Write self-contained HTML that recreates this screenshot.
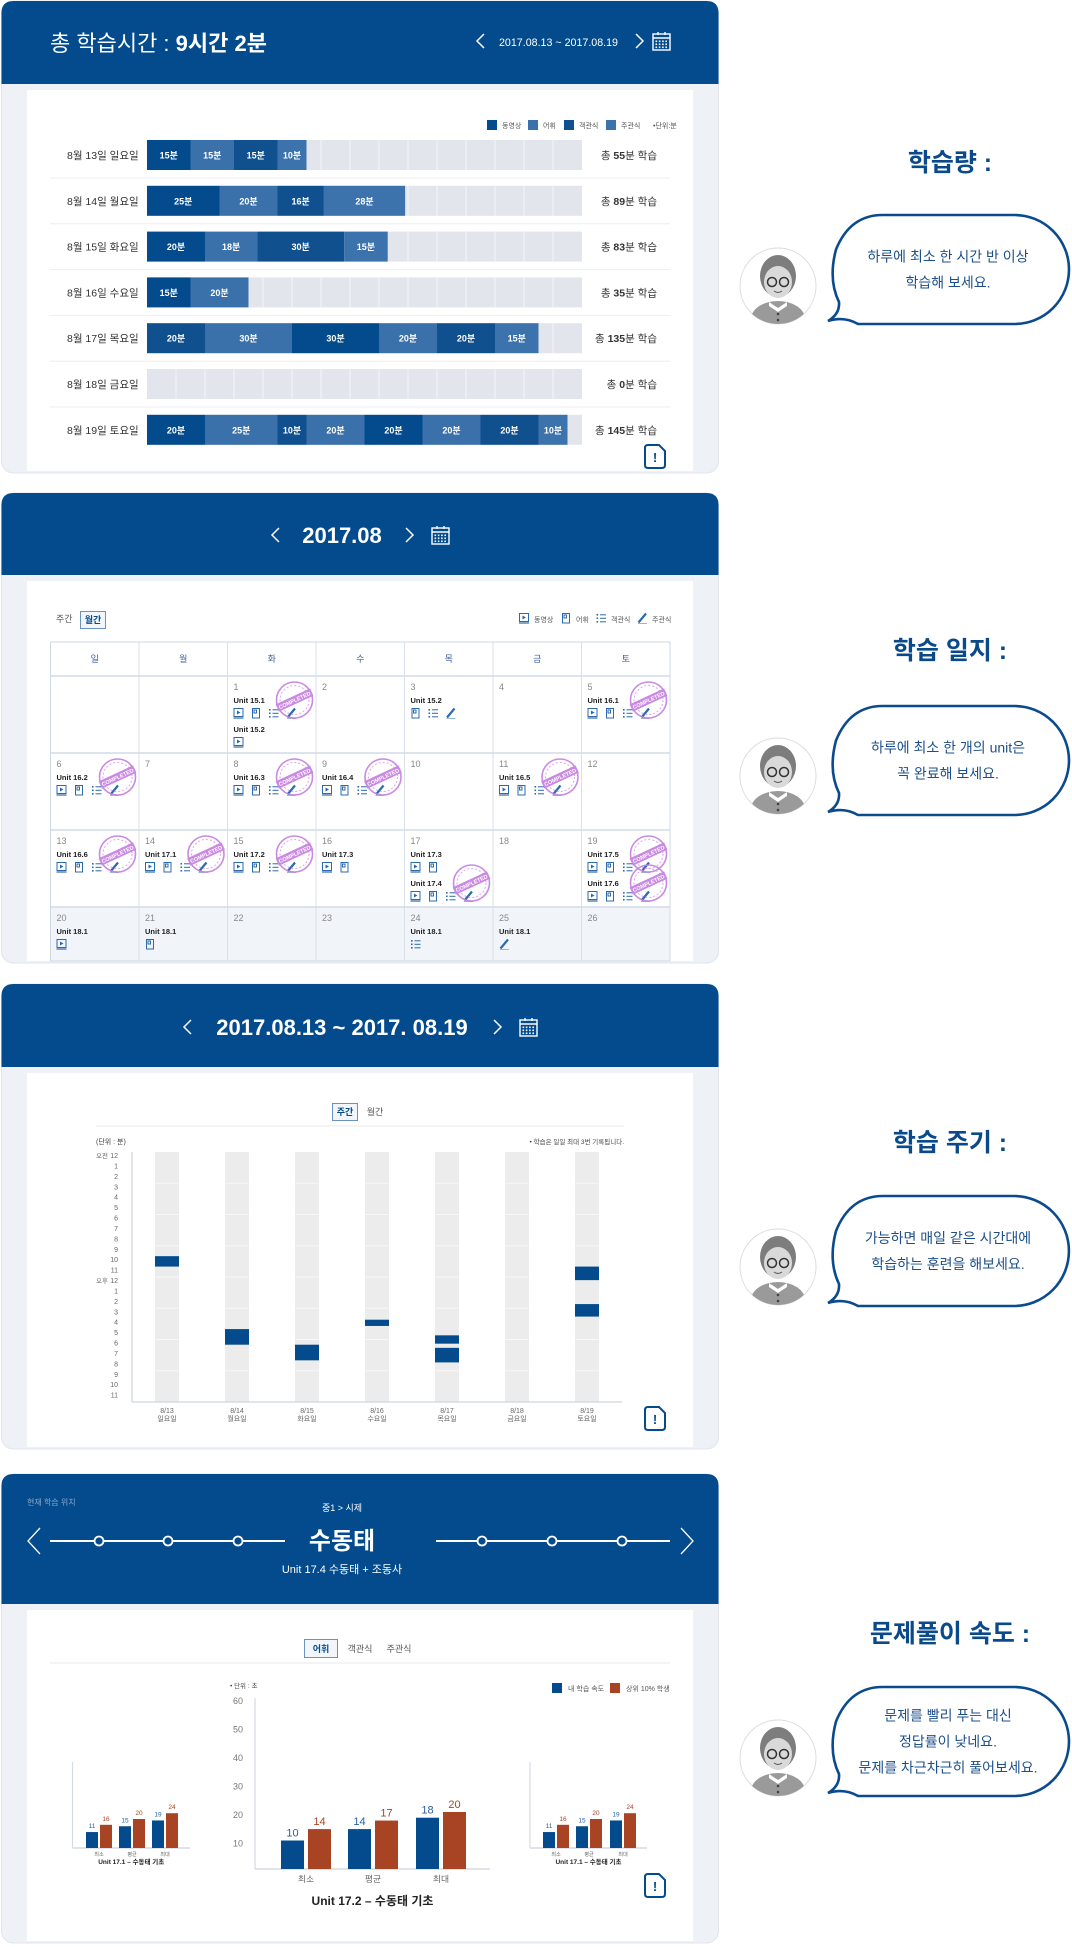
<!DOCTYPE html>
<html><head><meta charset="utf-8"><style>
html,body{margin:0;padding:0;background:#fff;}
#root{position:relative;width:1072px;height:1947px;overflow:hidden;background:#fff;}
svg{display:block;font-family:"Liberation Sans","Noto Sans CJK KR",sans-serif;}
</style></head><body>
<div id="root">
<svg id="page" width="1072" height="1947" viewBox="0 0 1072 1947"></svg>
</div>
<script>
// ---------- chart 1 data ----------
const dayLabels = ['8월 13일 일요일','8월 14일 월요일','8월 15일 화요일','8월 16일 수요일','8월 17일 목요일','8월 18일 금요일','8월 19일 토요일'];
const segMinutes = [[15,15,15,10],[25,20,16,28],[20,18,30,15],[15,20],[20,30,30,20,20,15],[],[20,25,10,20,20,20,20,10]];
const segTypes = [[0,1,2,3],[0,1,2,3],[0,1,2,3],[0,1],[2,1,0,1,2,3],[],[0,1,2,1,0,1,2,3]];
const typeNames = ['동영상','어휘','객관식','주관식'];
// ---------- chart 3 data ----------
const weekDates = ['8/13','8/14','8/15','8/16','8/17','8/18','8/19'];
const weekDays = ['일요일','월요일','화요일','수요일','목요일','금요일','토요일'];
const sessionStarts = [[10],[17],[18.5],[16.1],[17.6,18.8],[],[11,14.6]];
const sessionEnds = [[11],[18.5],[20],[16.7],[18.4,20.2],[],[12.3,15.8]];
const hourLabels = ['12','1','2','3','4','5','6','7','8','9','10','11','12','1','2','3','4','5','6','7','8','9','10','11'];
// ---------- chart 4 data ----------
const speedCats = ['최소','평균','최대'];
const mainMine = [10,14,18];
const mainTop = [14,17,20];
const sideMine = [11,15,19];
const sideTop = [16,20,24];
const speedTicks = [10,20,30,40,50,60];
// ---------- calendar data ----------
const calNums = ['','',1,2,3,4,5,6,7,8,9,10,11,12,13,14,15,16,17,18,19,20,21,22,23,24,25,26];
const calEntries = {
 1:[['Unit 15.1','vwos',1],['Unit 15.2','v',0]], 3:[['Unit 15.2','wos',0]], 5:[['Unit 16.1','vwos',1]],
 6:[['Unit 16.2','vwos',1]], 8:[['Unit 16.3','vwos',1]], 9:[['Unit 16.4','vwos',1]], 11:[['Unit 16.5','vwos',1]],
 13:[['Unit 16.6','vwos',1]], 14:[['Unit 17.1','vwos',1]], 15:[['Unit 17.2','vwos',1]], 16:[['Unit 17.3','vw',0]],
 17:[['Unit 17.3','vw',0],['Unit 17.4','vwos',1]], 19:[['Unit 17.5','vwos',1],['Unit 17.6','vwos',1]],
 20:[['Unit 18.1','v',0]], 21:[['Unit 18.1','w',0]], 24:[['Unit 18.1','o',0]], 25:[['Unit 18.1','s',0]]
};

const NS='http://www.w3.org/2000/svg';
const svg=document.getElementById('page');
function S(tag,attrs,parent,text){const e=document.createElementNS(NS,tag);for(const k in attrs)e.setAttribute(k,attrs[k]);if(text!==undefined)e.textContent=text;(parent||svg).appendChild(e);return e;}
const BLUE='#034b8c', RED='#a84423';

function panel(top,hb,bottom){
  const g=S('g',{});
  
  
  S('rect',{x:1.5,y:top,width:717,height:bottom-top,rx:12,fill:'#eef2f7',stroke:'#dfe5ed'},g);
  const h=S('path',{d:`M1.5 ${top+12} Q1.5 ${top} 13.5 ${top} H706.5 Q718.5 ${top} 718.5 ${top+12} V${hb} H1.5 Z`,fill:BLUE},g);
  
  
  const c=S('rect',{x:27,y:hb+6,width:666,height:bottom-hb-8,fill:'#fff'},g);
  
  
  return g;
}
function chevron(x,cy,dir,p,w,h,sw){
  w=w||7;h=h||14;
  const d=dir<0?`M${x+w} ${cy-h/2} L${x} ${cy} L${x+w} ${cy+h/2}`:`M${x} ${cy-h/2} L${x+w} ${cy} L${x} ${cy+h/2}`;
  const e=S('path',{d,fill:'none',stroke:'#fff','stroke-width':sw||1.5},p);
  
  
  return e;
}
function calIcon(x,y,p){
  const g=S('g',{},p);
  
  
  S('rect',{x:x,y:y+2,width:17,height:16,fill:'none',stroke:'#fff','stroke-width':1.4},g);
  S('line',{x1:x,y1:y+6,x2:x+17,y2:y+6,stroke:'#fff','stroke-width':1.4},g);
  S('line',{x1:x+5,y1:y,x2:x+5,y2:y+3,stroke:'#fff','stroke-width':1.4},g);
  S('line',{x1:x+12,y1:y,x2:x+12,y2:y+3,stroke:'#fff','stroke-width':1.4},g);
  for(let r=0;r<3;r++)for(let c=0;c<4;c++)S('rect',{x:x+2.5+c*3.3,y:y+8.5+r*3,width:1.6,height:1.6,fill:'#fff'},g);
}
function alertIcon(x,y,p){
  const g=S('g',{},p);
  
  
  S('path',{d:`M${x+3} ${y} H${x+14} L${x+20} ${y+6} V${y+20} Q${x+20} ${y+23} ${x+17} ${y+23} H${x+3} Q${x} ${y+23} ${x} ${y+20} V${y+3} Q${x} ${y} ${x+3} ${y} Z`,fill:'#fff',stroke:BLUE,'stroke-width':2},g);
  S('text',{x:x+10,y:y+17,'font-size':13,'font-weight':'bold',fill:BLUE,'text-anchor':'middle'},g,'!');
}
function icon(t,x,y,p){
  const g=S('g',{fill:'none',stroke:'#2b6aad','stroke-width':1},p);
  
  
  if(t==='v'){S('rect',{x:x+0.5,y:y+0.5,width:9,height:8},g);S('path',{d:`M${x+3.5} ${y+2.5} L${x+7} ${y+4.5} L${x+3.5} ${y+6.5}Z`,fill:'#2b6aad',stroke:'none'},g);S('line',{x1:x,y1:y+10,x2:x+10,y2:y+10,'stroke-width':1.2},g);}
  else if(t==='w'){S('rect',{x:x+1.5,y:y+0.5,width:7,height:9.5},g);S('rect',{x:x+3,y:y+2,width:2.5,height:3},g);}
  else if(t==='o'){for(let i=0;i<3;i++){S('rect',{x:x+0.5,y:y+1+i*3.5,width:1.6,height:1.6,fill:'#2b6aad',stroke:'none'},g);S('line',{x1:x+4,y1:y+1.8+i*3.5,x2:x+10,y2:y+1.8+i*3.5},g);}}
  else {S('line',{x1:x+1.5,y1:y+9.5,x2:x+9,y2:y+0.5,'stroke-width':2.2},g);S('line',{x1:x+1,y1:y+10.5,x2:x+10,y2:y+10.5,stroke:'#9bb5d4'},g);}
}
function stamp(cx,cy,p){
  const g=S('g',{opacity:0.9},p);
  
  
  S('circle',{cx,cy,r:18,fill:'none',stroke:'#c57ee0','stroke-width':1.6},g);
  S('circle',{cx,cy,r:14.5,fill:'none',stroke:'#d59ce9','stroke-width':1,'stroke-dasharray':'2 2'},g);
  const b=S('g',{transform:`translate(${cx},${cy}) rotate(-25)`},g);
  S('rect',{x:-19,y:-4,width:38,height:8,fill:'#c57ee0'},b);
  S('text',{x:0,y:2.2,'font-size':5.5,'font-weight':'bold',fill:'#fff','text-anchor':'middle'},b,'COMPLETED');
}
function T(x,y,size,fill,txt,p,anchor,weight){
  return S('text',{x,y,'font-size':size,fill,'text-anchor':anchor||'start','font-weight':weight||'normal'},p,txt);
}

// ================= PANEL 1 =================
const p1=panel(1,84,473);
const t1=S('text',{x:50,y:51,'font-size':22,fill:'#fff'},p1);


S('tspan',{},t1,'총 학습시간 : ');
S('tspan',{'font-weight':'bold'},t1,'9시간 2분');
chevron(477,41,-1,p1);
const dr1=S('text',{x:499,y:46,'font-size':11,fill:'#fff',textLength:119,lengthAdjust:'spacingAndGlyphs'},p1,'2017.08.13 ~ 2017.08.19');


chevron(636,41,1,p1);
calIcon(653,32,p1);
const typeColors=['#034b8c','#3a71ab','#10508f','#3c73ad'];
const lg1=S('g',{},p1);


const lgX=[487,528,564,606];
typeNames.forEach((n,i)=>{
  const r=S('rect',{x:lgX[i],y:120,width:10,height:10,fill:typeColors[i]},lg1);
  
  
  T(lgX[i]+15,128,7,'#555',n,lg1);
});
T(653,128,7,'#555','•단위:분',lg1);
const X0=147, PXMIN=2.9, TRACKMIN=150;
const xMin=m=>X0+m*PXMIN;
dayLabels.forEach((lab,i)=>{
  const cy=155+i*45.8;
  const row=S('g',{},p1);
  
  
  T(67,cy+4,10.5,'#333',lab,row);
  const tr=S('rect',{x:xMin(0),y:cy-15,width:xMin(TRACKMIN)-xMin(0),height:30,fill:'#e3e5ec'},row);
  
  
  for(let m=10;m<TRACKMIN;m+=10)S('line',{x1:xMin(m),y1:cy-15,x2:xMin(m),y2:cy+15,stroke:'#f4f5f8','stroke-width':1},row);
  let acc=0;
  segMinutes[i].forEach((v,j)=>{
    const s=S('rect',{x:xMin(acc),y:cy-15,width:xMin(acc+v)-xMin(acc),height:30,fill:typeColors[segTypes[i][j]]},row);
    
    
    T((xMin(acc)+xMin(acc+v))/2,cy+3.5,9,'#fff',v+'분',row,'middle','bold');
    acc+=v;
  });
  const tot=S('text',{x:657,y:cy+4,'font-size':10.5,fill:'#333','text-anchor':'end'},row);
  
  
  S('tspan',{},tot,'총 ');
  S('tspan',{'font-weight':'bold'},tot,String(acc));
  S('tspan',{},tot,'분 학습');
  if(i<dayLabels.length-1)S('line',{x1:50,y1:cy+23,x2:670,y2:cy+23,stroke:'#eceef2'},row);
});
alertIcon(645,445,p1);

// ================= PANEL 2 =================
const p2=panel(493,575,963);
chevron(272,535,-1,p2);
const mt=T(342,543,22,'#fff','2017.08',p2,'middle','bold');


chevron(406,535,1,p2);
calIcon(432,526,p2);
const tw=T(56,622,9,'#555','주간',p2);


const mb=S('rect',{x:80.5,y:611.5,width:25,height:17,fill:'#f2f6fb',stroke:'#6a92c0'},p2);


T(93,623,9,BLUE,'월간',p2,'middle','bold');
const lg2=S('g',{},p2);


['v','w','o','s'].forEach((t,i)=>{const xs=[519,561,596,637][i];icon(t,xs,613,lg2);T(xs+15,622,7,'#555',typeNames[i],lg2);});
const CX0=50.5, CW=88.5, rowTops=[676,753,830,907,961];
const grid=S('g',{},p2);


S('rect',{x:CX0,y:907,width:CW*7,height:54,fill:'#f1f5f9'},grid);
S('rect',{x:CX0,y:642,width:CW*7,height:319,fill:'none',stroke:'#cfd9e6'},grid);
['일','월','화','수','목','금','토'].forEach((d,i)=>T(CX0+CW*i+CW/2,662,9,'#3d64a0',d,grid,'middle'));
for(let i=1;i<7;i++)S('line',{x1:CX0+CW*i,y1:642,x2:CX0+CW*i,y2:961,stroke:'#d8e0ea'},grid);
rowTops.slice(0,4).forEach(y=>S('line',{x1:CX0,y1:y,x2:CX0+CW*7,y2:y,stroke:'#d2dbe7','stroke-width':1.5},grid));
calNums.forEach((n,k)=>{
  if(n==='')return;
  const c=k%7, r=Math.floor(k/7);
  const x=CX0+CW*c, top=rowTops[r];
  const cell=S('g',{},p2);
  
  
  T(x+6,top+14,9,'#888',String(n),cell);
  (calEntries[n]||[]).forEach((en,j)=>{
    const oy=top+j*29;
    T(x+6,oy+27,7.5,'#222',en[0],cell,'start','bold');
    en[1].split('').forEach((t,q)=>icon(t,x+6+q*17.5,oy+32,cell));
    if(en[2])stamp(x+67,oy+24,cell);
  });
});

// ================= PANEL 3 =================
const p3=panel(984,1067,1449);
chevron(184,1027,-1,p3);
const wt=T(342,1035,22,'#fff','2017.08.13 ~ 2017. 08.19',p3,'middle','bold');


chevron(494,1027,1,p3);
calIcon(520,1018,p3);
const wb=S('rect',{x:332.5,y:1103.5,width:25,height:17,fill:'#f2f6fb',stroke:'#6a92c0'},p3);


T(345,1115,9,BLUE,'주간',p3,'middle','bold');
const mt3=T(375,1115,9,'#555','월간',p3,'middle');


S('line',{x1:96,y1:1126,x2:624,y2:1126,stroke:'#e6e9ee'},p3);
T(96,1144,7,'#444','(단위 : 분)',p3);
T(624,1144,6.5,'#444','• 학습은 일일 최대 3번 기록됩니다.',p3,'end');
const TOP3=1152, BOT3=1402, HPX=(BOT3-TOP3)/24;
const yHour=h=>TOP3+h*HPX;
const colX=i=>167+i*70;
const c3=S('g',{},p3);


hourLabels.forEach((l,h)=>{
  T(118,yHour(h)+6,7,'#666',l,c3,'end');
  if(h===0)T(96,yHour(h)+6,6.5,'#666','오전',c3);
  if(h===12)T(96,yHour(h)+6,6.5,'#666','오후',c3);
});
weekDates.forEach((d,i)=>{
  const cx=colX(i);
  const col=S('rect',{x:cx-12,y:TOP3,width:24,height:BOT3-TOP3,fill:'#ececec'},c3);
  
  
  for(let h=3;h<24;h+=3)S('line',{x1:cx-12,y1:yHour(h),x2:cx+12,y2:yHour(h),stroke:'#f7f7f7'},c3);
  sessionStarts[i].forEach((s,j)=>{
    const b=S('rect',{x:cx-12,y:yHour(s),width:24,height:yHour(sessionEnds[i][j])-yHour(s),fill:BLUE},c3);
    
    
  });
  T(cx,1413,7,'#666',d,c3,'middle');
  T(cx,1421,7,'#666',weekDays[i],c3,'middle');
});
S('line',{x1:132,y1:TOP3,x2:132,y2:BOT3,stroke:'#cfd6df','stroke-width':1.2},c3);
S('line',{x1:132,y1:BOT3,x2:622,y2:BOT3,stroke:'#cfd6df','stroke-width':1.2},c3);
alertIcon(645,1407,p3);

// ================= PANEL 4 =================
const p4=panel(1474,1604,1943);
T(27,1505,8,'#8fa7c9','현재 학습 위치',p4);
T(342,1511,9,'#fff','중1 > 시제',p4,'middle');
const ct=T(342,1549,24,'#fff','수동태',p4,'middle','bold');


T(342,1573,11,'#fff','Unit 17.4 수동태 + 조동사',p4,'middle');
chevron(28,1541,-1,p4,12,26,1.3);
chevron(681,1541,1,p4,12,26,1.3);
const prog=S('g',{},p4);


S('line',{x1:50,y1:1541,x2:285,y2:1541,stroke:'#fff','stroke-width':2},prog);
S('line',{x1:436,y1:1541,x2:670,y2:1541,stroke:'#fff','stroke-width':2},prog);
[99,168,238,482,552,622].forEach(x=>{
  const c=S('circle',{cx:x,cy:1541,r:4.5,fill:BLUE,stroke:'#fff','stroke-width':1.8},prog);
  
  
});
const vb=S('rect',{x:304.5,y:1639.5,width:33,height:18,fill:'#f2f6fb',stroke:'#6a92c0'},p4);


T(321,1652,9,BLUE,'어휘',p4,'middle','bold');
const ot=T(360,1652,9,'#555','객관식',p4,'middle');


const st=T(399,1652,9,'#555','주관식',p4,'middle');


S('line',{x1:50,y1:1663,x2:670,y2:1663,stroke:'#e6e9ee'},p4);
const lg4=S('g',{},p4);


S('rect',{x:552,y:1683,width:10,height:10,fill:BLUE},lg4);
T(568,1691,7,'#555','내 학습 속도',lg4);
S('rect',{x:610,y:1683,width:10,height:10,fill:RED},lg4);
T(626,1691,7,'#555','상위 10% 학생',lg4);

function barChart(name,base,top,axisX,endX,scale,cxs,mine,topv,bw,gap,fs,labelY,unitY,unitText,unitSize){
  const g=S('g',{},p4);
  
  
  const yv=v=>base-v*scale;
  S('line',{x1:axisX,y1:top,x2:axisX,y2:base,stroke:'#d5dbe3','stroke-width':1.2},g);
  S('line',{x1:axisX,y1:base,x2:endX,y2:base,stroke:'#d5dbe3','stroke-width':1.5},g);
  speedCats.forEach((c,i)=>{
    const cx=cxs[i];
    const b1=S('rect',{x:cx-gap-bw,y:yv(mine[i]),width:bw,height:base-yv(mine[i]),fill:BLUE},g);
    
    
    const b2=S('rect',{x:cx+gap,y:yv(topv[i]),width:bw,height:base-yv(topv[i]),fill:RED},g);
    
    
    T(cx-gap-bw/2,yv(mine[i])-4,fs,'#2b5fa0',String(mine[i]),g,'middle');
    T(cx+gap+bw/2,yv(topv[i])-4,fs,RED,String(topv[i]),g,'middle');
    T(cx,labelY,fs*0.8,'#666',c,g,'middle');
  });
  T((axisX+endX)/2,unitY,unitSize,'#222',unitText,g,'middle','bold');
  return {g,yv};
}
const main=barChart('main-speed-chart',1869,1698,255,490,2.85,[306,373,441],mainMine,mainTop,23,2,11,1882,1905,'Unit 17.2 – 수동태 기초',12);
T(230,1688,6.5,'#444','• 단위 : 초',main.g);
speedTicks.forEach(v=>T(243,main.yv(v)+6,9,'#777',String(v),main.g,'end'));
barChart('prev-unit-speed-chart',1848,1762,72.5,190,1.45,[99,132,165],sideMine,sideTop,12,1,6.5,1856,1864,'Unit 17.1 – 수동태 기초',6.5);
barChart('next-unit-speed-chart',1848,1762,530,647,1.45,[556,589,623],sideMine,sideTop,12,1,6.5,1856,1864,'Unit 17.1 – 수동태 기초',6.5);
alertIcon(645,1874,p4);

// ================= TIPS =================
function avatar(cx,cy){
  const g=S('g',{});
  
  
  const id='clip'+cy;
  const cp=S('clipPath',{id},g);S('circle',{cx,cy,r:38},cp);
  S('circle',{cx,cy,r:38,fill:'#fff',stroke:'#dcdcdc','stroke-width':1},g);
  const k=S('g',{'clip-path':`url(#${id})`},g);
  S('ellipse',{cx,cy:cy+33,rx:27,ry:18,fill:'#9a9a9a'},k);
  S('path',{d:`M${cx-9} ${cy+16} L${cx} ${cy+22} L${cx+9} ${cy+16} L${cx+9} ${cy+20} L${cx} ${cy+26} L${cx-9} ${cy+20}Z`,fill:'#fff'},k);
  S('ellipse',{cx,cy:cy-10,rx:18,ry:21,fill:'#7d7d7d'},k);
  S('ellipse',{cx,cy:cy-4,rx:14,ry:16,fill:'#d9d9d9'},k);
  S('circle',{cx:cx-6,cy:cy-4,r:4.5,fill:'none',stroke:'#333','stroke-width':1.5},k);
  S('circle',{cx:cx+6,cy:cy-4,r:4.5,fill:'none',stroke:'#333','stroke-width':1.5},k);
  S('path',{d:`M${cx-4} ${cy+5} Q${cx} ${cy+8} ${cx+4} ${cy+5}`,fill:'none',stroke:'#555','stroke-width':1},k);
  S('circle',{cx,cy:cy+28,r:1.3,fill:'#444'},k);S('circle',{cx,cy:cy+34,r:1.3,fill:'#444'},k);
}
function tip(title,titleY,bTop,bBot,lines,avY){
  const tt=T(950,titleY+9,25,'#0b4a8a',title,null,'middle','bold');
  
  
  avatar(778,avY);
  const x0=828,x1=1069,r=(bBot-bTop)/2;
  const d=`M${x0+r} ${bTop} H${x1-r} A${r} ${r} 0 0 1 ${x1-r} ${bBot} H${x0+30} Q${x0+16} ${bBot-8} ${x0} ${bBot-3} Q${x0+12} ${bBot-10} ${x0+11} ${bBot-22} Q${x0} ${bTop+r+10} ${x0+8} ${bTop+r-20} Q${x0+22} ${bTop} ${x0+r} ${bTop} Z`;
  const b=S('path',{d,fill:'#fff',stroke:'#0b4b8d','stroke-width':2.6});
  
  
  const mid=(bTop+bBot)/2, lh=26, start=mid-(lines.length-1)*lh/2;
  lines.forEach((l,i)=>{
    const t=T(948,start+i*lh+5,14,'#1d4f8a',l,null,'middle');
    
    
  });
}
tip('학습량 :',162,215,324,['하루에 최소 한 시간 반 이상','학습해 보세요.'],286);
tip('학습 일지 :',650,706,815,['하루에 최소 한 개의 unit은','꼭 완료해 보세요.'],776);
tip('학습 주기 :',1142,1196,1306,['가능하면 매일 같은 시간대에','학습하는 훈련을 해보세요.'],1267);
tip('문제풀이 속도 :',1633,1687,1796,['문제를 빨리 푸는 대신','정답률이 낮네요.','문제를 차근차근히 풀어보세요.'],1758);
</script>
</body></html>
